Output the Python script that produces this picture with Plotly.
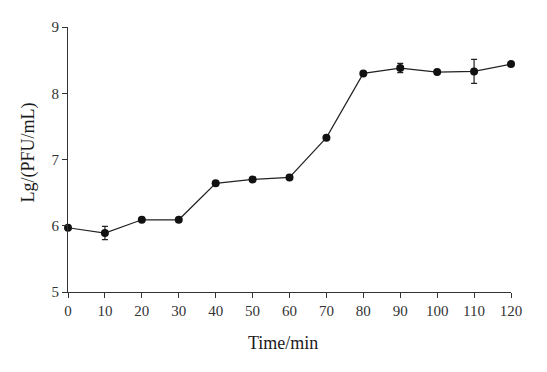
import plotly.graph_objects as go

time_min = [0, 10, 20, 30, 40, 50, 60, 70, 80, 90, 100, 110, 120]
lg_pfu = [5.97, 5.89, 6.09, 6.09, 6.64, 6.70, 6.73, 7.33, 8.30, 8.38, 8.32, 8.33, 8.44]
err = [0, 0.10, 0, 0, 0, 0, 0, 0, 0, 0.07, 0, 0.18, 0]
x_ticks = list(range(0, 121, 10))
y_ticks = [5, 6, 7, 8, 9]
x_title = "Time/min"
y_title = "Lg/(PFU/mL)"

font_family = "Liberation Serif"

fig = go.Figure()
fig.add_trace(go.Scatter(
    x=time_min, y=lg_pfu,
    mode="lines+markers",
    line=dict(color="#222222", width=1.2),
    marker=dict(color="#111111", size=8),
    error_y=dict(type="data", array=err, visible=True, color="#222222", thickness=1.2, width=3),
    showlegend=False,
    cliponaxis=False,
))

axis_common = dict(
    showgrid=False, zeroline=False, showline=True, linecolor="#333333", linewidth=1.2,
    ticks="outside", ticklen=5, tickwidth=1.2, tickcolor="#333333",
    tickfont=dict(family=font_family, size=15, color="#333333"),
)

fig.update_xaxes(range=[0, 120], tickvals=x_ticks, **axis_common)
fig.update_yaxes(range=[5, 9], tickvals=y_ticks, **axis_common)

title_font = dict(family=font_family, size=18, color="#1a1a1a")
fig.add_annotation(text=x_title, xref="paper", yref="paper", x=0.485, y=-0.194,
                   xanchor="center", yanchor="middle", showarrow=False, font=title_font)
fig.add_annotation(text=y_title, xref="paper", yref="paper", x=-0.090, y=0.527,
                   xanchor="center", yanchor="middle", showarrow=False, textangle=-90, font=title_font)

fig.update_layout(
    width=547, height=372,
    margin=dict(l=60, r=44, t=11, b=88),
    plot_bgcolor="white", paper_bgcolor="white",
    font=dict(family=font_family),
)

fig.write_html("out.html")
